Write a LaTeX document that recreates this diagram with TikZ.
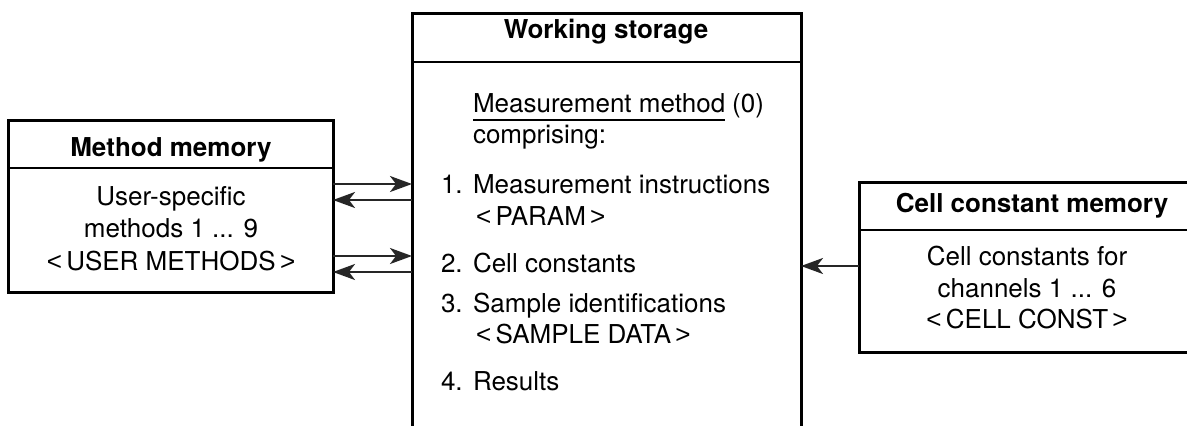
\documentclass[tikz,border=0pt]{standalone}
\usepackage{fontspec}
\setmainfont{TeX Gyre Heros}
\newfontfamily\bracketfont{Liberation Sans}
\newcommand{\opentag}{{\bracketfont\symbol{"003C}}\,}
\newcommand{\closetag}{\,{\bracketfont\symbol{"003E}}}
\usetikzlibrary{arrows.meta}

\tikzset{
  frame/.style={draw, line width=3pt, inner sep=0pt, outer sep=0pt, rectangle},
  divider/.style={line width=2.6pt},
  txt/.style={inner sep=0pt, outer sep=0pt, font=\fontsize{26}{32}\selectfont},
  head/.style={txt, font=\fontsize{26}{32}\selectfont\bfseries, anchor=base},
  line/.style={txt, anchor=base west},
  cline/.style={txt, anchor=base},
  flow/.style={line width=2.2pt, draw=black!85,
    -{Stealth[length=22pt, width=16pt, inset=6pt]}},
}

\begin{document}
\begin{tikzpicture}[x=1pt, y=-1pt]
  \clip (0,0) rectangle (1187,426);
  \fill[white] (0,0) rectangle (1187,426);

  % --- the three stores ---
  \node[frame, minimum width=325pt, minimum height=172pt] (mm) at (170.5,206) {};
  \node[frame, minimum width=389pt, minimum height=447pt] (ws) at (606.5,236.5) {};
  \node[frame, minimum width=342pt, minimum height=170pt] (cc) at (1030,267) {};

  % header separators
  \coordinate (mmh) at (0,168);
  \coordinate (wsh) at (0,62);
  \coordinate (cch) at (0,230);
  \draw[divider] (mm.west |- mmh) -- (mm.east |- mmh);
  \draw[divider] (ws.west |- wsh) -- (ws.east |- wsh);
  \draw[divider] (cc.west |- cch) -- (cc.east |- cch);

  % --- method memory ---
  \node[head] (mmt) at (171,156) {Method memory};
  \node[cline] (mm1) at (171,205) {User-specific};
  \node[cline] (mm2) at (171,237) {methods 1 ... 9};
  \node[cline] (mm3) at (171,270) {\opentag USER METHODS\closetag};

  % --- working storage ---
  \node[head] (wst) at (606,38) {Working storage};
  \node[line] (ws0) at (473,112) {Measurement method};
  \node[line, anchor=base west] (ws0b) at ([xshift=7pt]ws0.base east) {(0)};
  \draw[line width=1.8pt] ([yshift=-8pt]ws0.base west) -- ([yshift=-8pt]ws0.base east);
  \node[line] (ws0c) at (473,143) {comprising:};

  \node[line] (n1) at (441,193) {1.};
  \node[line] (i1) at (473,193) {Measurement instructions};
  \node[line] (i1b) at (476,225) {\opentag PARAM\closetag};
  \node[line] (n2) at (441,272) {2.};
  \node[line] (i2) at (473,272) {Cell constants};
  \node[line] (n3) at (441,312) {3.};
  \node[line] (i3) at (473,312) {Sample identifications};
  \node[line] (i3b) at (476,343) {\opentag SAMPLE DATA\closetag};
  \node[line] (n4) at (441,390) {4.};
  \node[line] (i4) at (473,390) {Results};

  % --- cell constant memory ---
  \node[head] (cct) at (1032,212) {Cell constant memory};
  \node[cline] (cc1) at (1027,265) {Cell constants for};
  \node[cline] (cc2) at (1027,297) {channels 1 ... 6};
  \node[cline] (cc3) at (1027,328) {\opentag CELL CONST\closetag};

  % --- data flows ---
  \coordinate (a1) at (0,184);
  \coordinate (a2) at (0,200);
  \coordinate (a3) at (0,256);
  \coordinate (a4) at (0,272);
  \coordinate (a5) at (0,266);
  \draw[flow] (mm.east |- a1) -- (ws.west |- a1);
  \draw[flow] (ws.west |- a2) -- (mm.east |- a2);
  \draw[flow] (mm.east |- a3) -- (ws.west |- a3);
  \draw[flow] (ws.west |- a4) -- (mm.east |- a4);
  \draw[flow] (cc.west |- a5) -- (ws.east |- a5);
\end{tikzpicture}
\end{document}
